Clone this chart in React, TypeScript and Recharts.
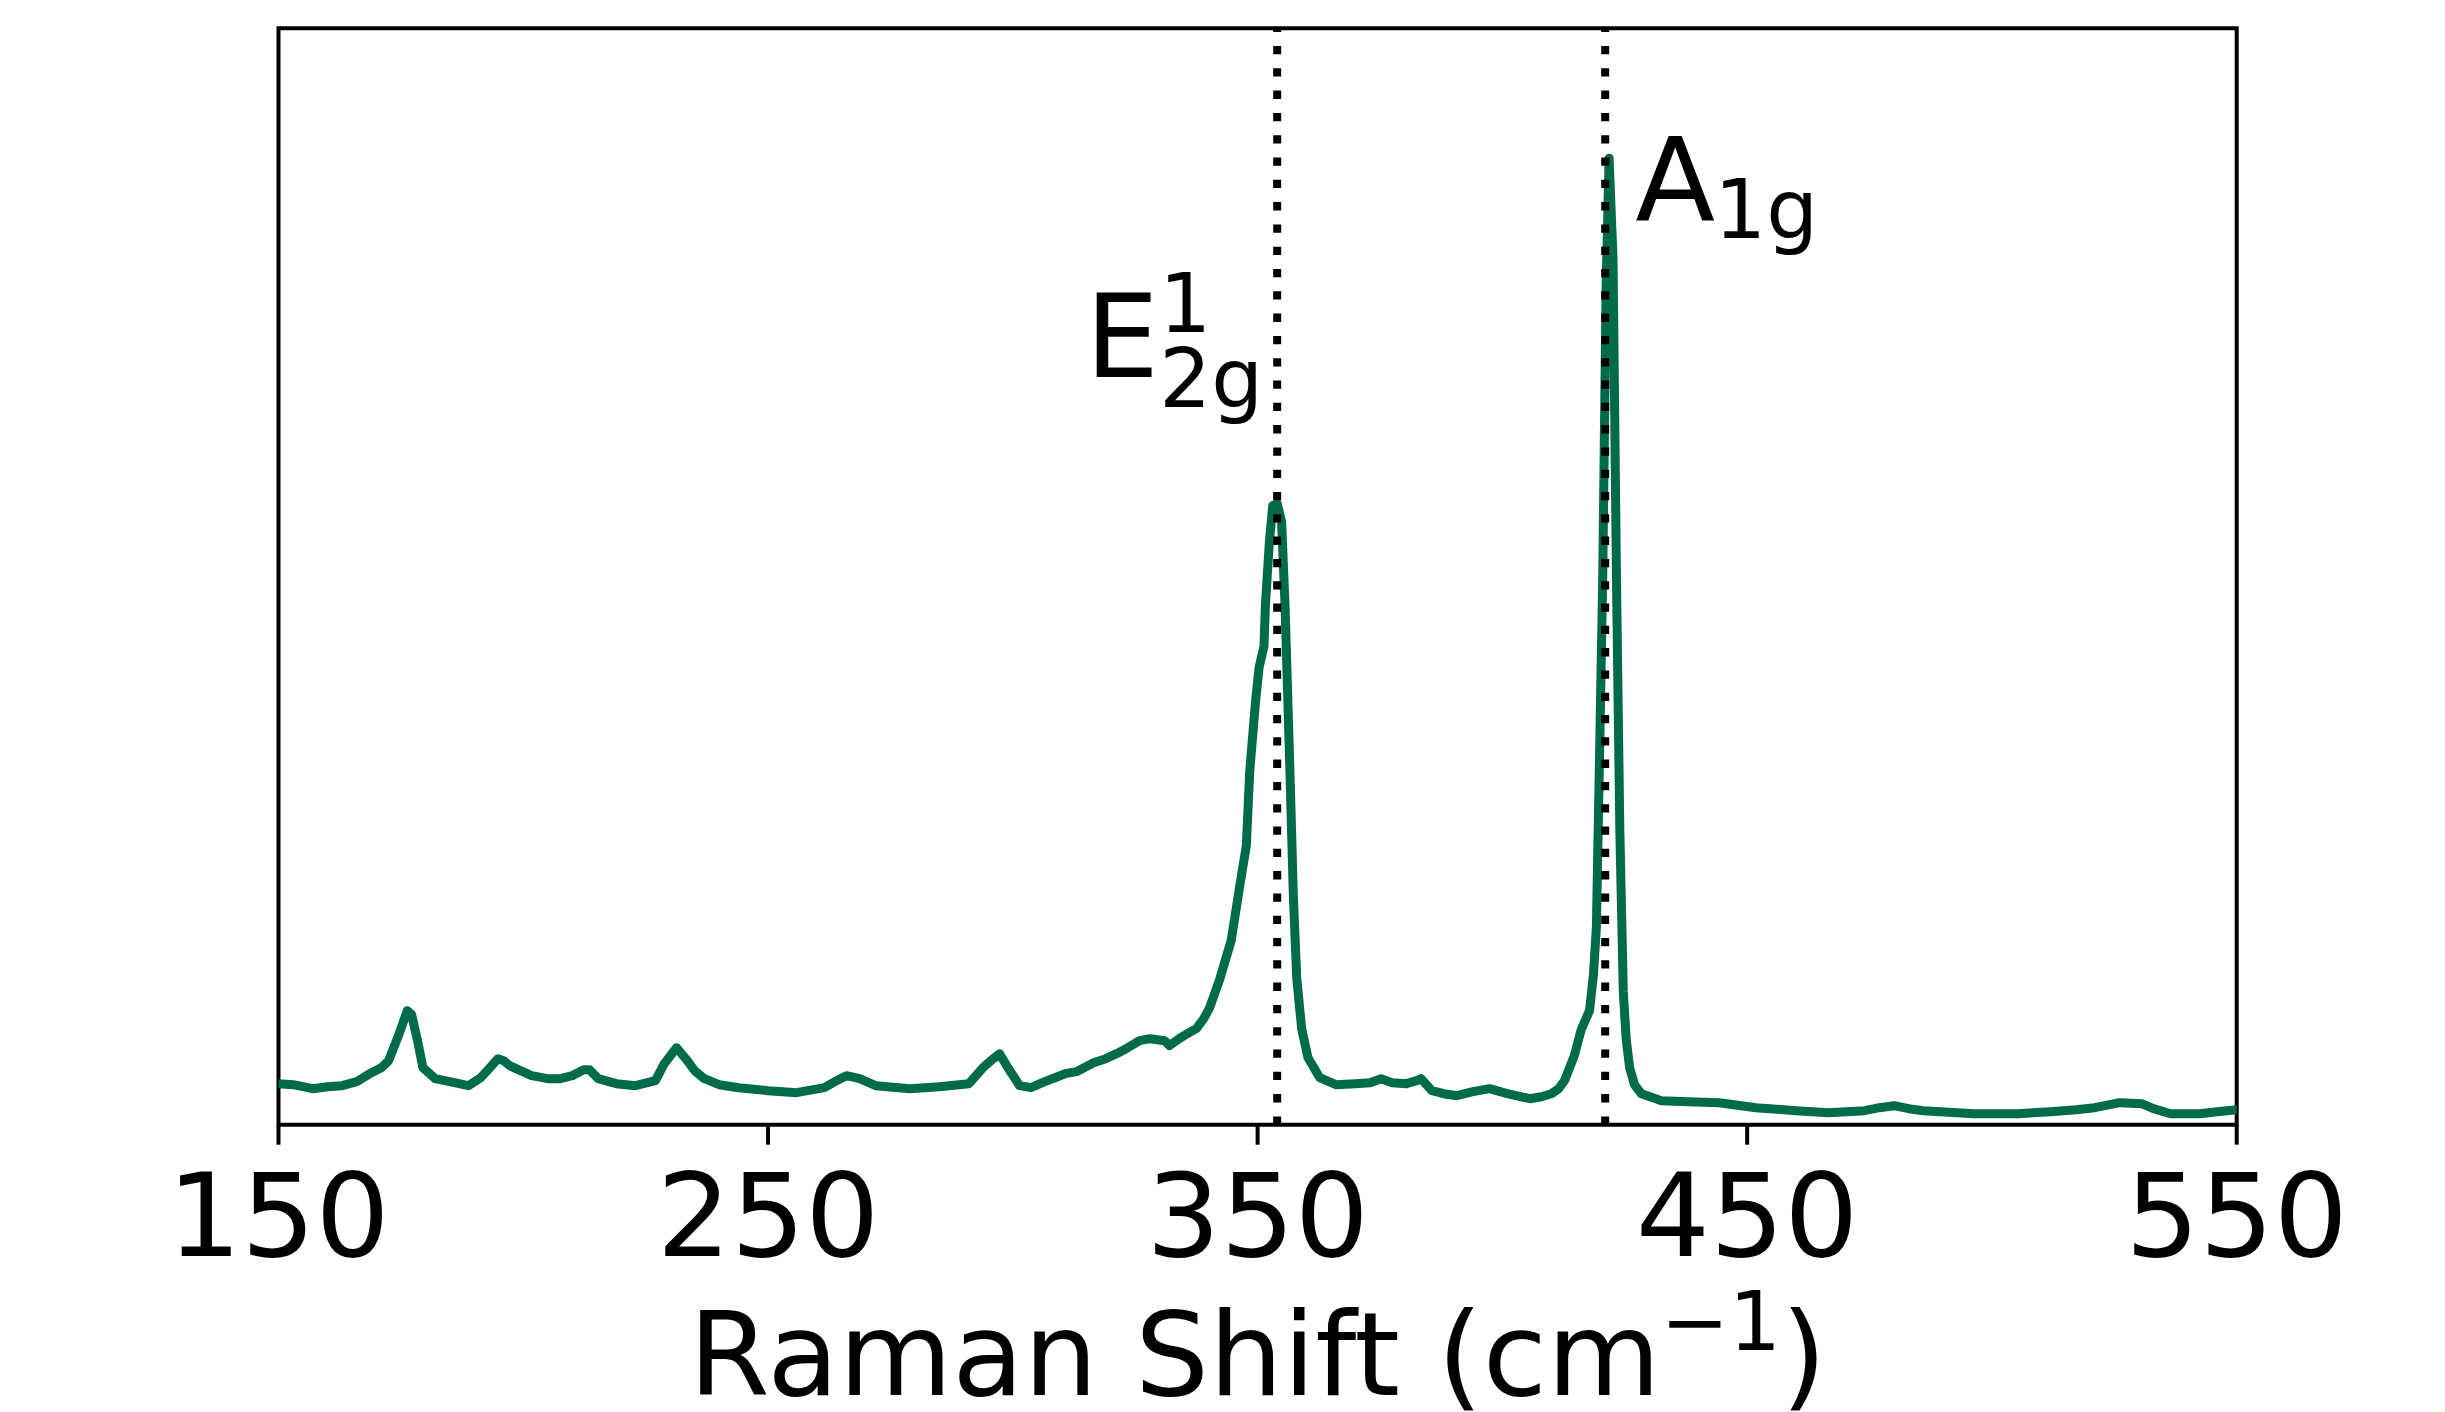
import React from "react";
import { LineChart, Line, XAxis, YAxis, ReferenceLine, ReferenceArea } from "recharts";

const ramanShift: number[] = [
  150, 153, 157, 160, 163, 166, 169, 171, 172.5, 174.5, 176.3, 177.2, 178.4, 179.5, 182, 185, 188.8,
  191.3, 193, 194.8, 196, 197.2, 201.7, 205, 207.6, 210, 212.3, 213.5, 215.3, 219, 222.9, 227, 228.8,
  231.3, 233.5, 235, 237, 240, 244, 250, 255.8, 261.5, 264, 266, 268.7, 272, 279, 285, 291, 293.9,
  296, 297.3, 299, 301.4, 303.7, 307, 310.7, 313, 316.5, 319, 321.2, 323.5, 325.9, 328, 331, 332,
  334, 336, 337.5, 339, 340.2, 342.3, 344.6, 346.3, 347.7, 348.4, 349.6, 350.3, 351.3, 351.6, 352.4,
  353.1, 354, 354.9, 355.6, 356.6, 357.3, 358, 359, 360.3, 362.7, 366, 370, 373, 375.2, 377.5, 380.4,
  382.5, 383.4, 384.5, 385.6, 388, 390.7, 394, 397.4, 401, 405.6, 408, 410, 411.5, 412.7, 414.7,
  416.1, 417.8, 418.6, 419.2, 419.8, 420.5, 421.2, 421.8, 422.6, 423.3, 424, 424.7, 425.3, 426, 427,
  428.4, 432.5, 438, 444.3, 451.8, 460, 466.6, 474, 477, 480, 483, 486, 496.4, 505.2, 512, 517.2, 521,
  526.1, 530.6, 533, 536.5, 542.4, 546, 550,
];

const intensity: number[] = [
  41, 40, 36, 38, 39, 43, 52, 57, 64, 89, 114, 110, 84, 57, 46, 43, 39,
  47, 56, 66, 64, 59, 49, 46, 46, 49, 55, 55, 46, 41, 39, 44, 61,
  77, 64, 54, 46, 40, 37, 34, 32, 37, 44, 49, 46, 39, 36, 38, 41, 57,
  66, 71, 57, 39, 37, 44, 51, 53, 62, 66, 71, 77, 84, 86, 84, 79,
  86, 92, 96, 106, 117, 146, 184, 237, 279, 354, 424, 457, 478, 520, 582,
  619, 621, 603, 520, 354, 229, 146, 96, 67, 47, 40, 41, 42, 46, 42, 41,
  44, 46, 40, 34, 31, 29, 33, 36, 31, 26, 28, 31, 36, 44, 69,
  95, 114, 150, 197, 356, 548, 840, 966, 866, 548, 292, 133, 85, 57, 40,
  31, 24, 23, 22, 17, 14, 12, 14, 17, 19, 16, 14, 11, 11, 13, 15, 17,
  22, 21, 16, 11, 11, 13, 15,
];

const xTicks: number[] = [150, 250, 350, 450, 550];
const xDomain: [number, number] = [150, 550];
const yDomain: [number, number] = [0, 1096];
const e2gPosition = 354;
const a1gPosition = 421;

const data = ramanShift.map((x, i) => ({ x, y: intensity[i] }));

const FONT = "DejaVu Sans";
const BIG = 116.7;
const SMALL = 81.7;

const E2gLabel = (props: any) => {
  const vb = props.viewBox || {};
  const x = vb.x ?? 0;
  const y = vb.y ?? 0;
  return (
    <g fontFamily={FONT} fill="#000">
      <text x={x - 192} y={y + 349} fontSize={BIG}>E</text>
      <text x={x - 118} y={y + 304} fontSize={SMALL}>1</text>
      <text x={x - 118} y={y + 379} fontSize={SMALL}>2g</text>
    </g>
  );
};

const A1gLabel = (props: any) => {
  const vb = props.viewBox || {};
  const x = vb.x ?? 0;
  const y = vb.y ?? 0;
  return (
    <g fontFamily={FONT} fill="#000">
      <text x={x + 30} y={y + 193} fontSize={BIG}>A</text>
      <text x={x + 109} y={y + 210} fontSize={SMALL}>1g</text>
    </g>
  );
};

const XLabel = (props: any) => {
  const vb = props.viewBox || {};
  const cx = (vb.x ?? 0) + (vb.width ?? 0) / 2;
  const y = (vb.y ?? 0) + 270;
  return (
    <text x={cx} y={y} textAnchor="middle" fontFamily={FONT} fontSize={BIG} fill="#000">
      Raman Shift (cm
      <tspan dy={-45} fontSize={SMALL}>−1</tspan>
      <tspan dy={45}>)</tspan>
    </text>
  );
};

const YLabel = (props: any) => {
  const vb = props.viewBox || {};
  const x = (vb.x ?? 0) + (vb.width ?? 0) - 81.8;
  const cy = (vb.y ?? 0) + (vb.height ?? 0) / 2;
  return (
    <text
      x={x}
      y={cy}
      transform={`rotate(-90, ${x}, ${cy})`}
      textAnchor="middle"
      fontFamily={FONT}
      fontSize={BIG}
      fill="#000"
    >
      Intensity (a.u.)
    </text>
  );
};

export default function App() {
  return (
    <div style={{ position: "absolute", left: 0, top: 0, width: 2445, height: 1412, background: "#fff" }}>
      <LineChart
        width={2445}
        height={1412}
        data={data}
        margin={{ top: 28.3, right: 208.3, bottom: 257.3, left: 278.5 }}
      >
        <XAxis
          dataKey="x"
          type="number"
          domain={xDomain}
          ticks={xTicks}
          allowDataOverflow
          height={30}
          axisLine={false}
          tickLine={{ stroke: "#000", strokeWidth: 4 }}
          tickSize={20}
          tickMargin={28.6}
          tick={{ fontFamily: FONT, fontSize: BIG, fill: "#000" }}
          label={{ content: XLabel }}
        />
        <YAxis
          type="number"
          domain={yDomain}
          allowDataOverflow
          width={0}
          tick={false}
          tickLine={false}
          axisLine={false}
          label={{ content: YLabel }}
        />
        <Line
          type="linear"
          dataKey="y"
          stroke="#006b4a"
          strokeWidth={9}
          strokeLinejoin="round"
          strokeLinecap="round"
          dot={false}
          activeDot={false}
          isAnimationActive={false}
        />
        <ReferenceLine
          x={e2gPosition}
          stroke="#000"
          strokeWidth={8}
          strokeDasharray="8.3 14"
          label={{ content: E2gLabel }}
        />
        <ReferenceLine
          x={a1gPosition}
          stroke="#000"
          strokeWidth={8}
          strokeDasharray="8.3 14"
          label={{ content: A1gLabel }}
        />
        <ReferenceArea
          x1={xDomain[0]}
          x2={xDomain[1]}
          y1={yDomain[0]}
          y2={yDomain[1]}
          fill="none"
          stroke="#000"
          strokeWidth={4}
          ifOverflow="visible"
        />
      </LineChart>
    </div>
  );
}
